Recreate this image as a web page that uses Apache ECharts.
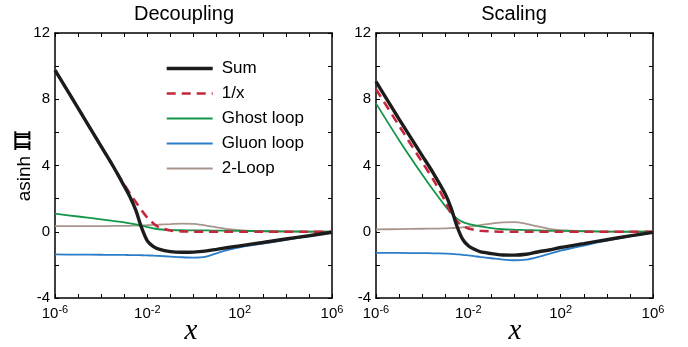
<!DOCTYPE html>
<html>
<head>
<meta charset="utf-8">
<style>
  html, body { margin: 0; padding: 0; background: #fff; }
  #chart { width: 688px; height: 347px; }
</style>
<script src="https://cdn.jsdelivr.net/npm/echarts@6/dist/echarts.min.js"></script>
</head>
<body>
<div id="chart"></div>
<script>
// x positions are log10(x)
const logX = [-6, -5, -4, -3.5, -3, -2.75, -2.5, -2.25, -2, -1.75, -1.5, -1, -0.5, 0, 0.5, 1, 1.5, 2, 3, 4, 5, 6];

// Decoupling panel
const decSum    = [9.76, 7.46, 5.15, 4.0, 2.75, 2.1, 1.3, 0.25, -0.55, -0.88, -1.05, -1.2, -1.24, -1.23, -1.17, -1.06, -0.95, -0.85, -0.65, -0.44, -0.24, -0.03];
const decInv    = [9.76, 7.46, 5.15, 4.0, 2.85, 2.3, 1.8, 1.3, 0.85, 0.52, 0.28, 0.07, 0.02, 0.01, 0, 0, 0, 0, 0, 0, 0, 0];
const decGhost  = [1.09, 0.92, 0.75, 0.66, 0.57, 0.51, 0.44, 0.36, 0.28, 0.21, 0.15, 0.1, 0.09, 0.08, 0.08, 0.07, 0.06, 0.05, 0.04, 0.02, 0.01, 0];
const decGluon  = [-1.37, -1.38, -1.39, -1.4, -1.4, -1.41, -1.41, -1.42, -1.43, -1.44, -1.46, -1.5, -1.54, -1.56, -1.52, -1.3, -1.1, -0.94, -0.72, -0.49, -0.26, -0.04];
const decTwo    = [0.34, 0.34, 0.34, 0.35, 0.35, 0.36, 0.37, 0.38, 0.4, 0.41, 0.43, 0.46, 0.49, 0.48, 0.38, 0.26, 0.16, 0.1, 0.03, 0.01, 0, 0];

// Scaling panel
const scaSum    = [9.06, 6.8, 4.6, 3.5, 2.28, 1.45, 0.36, -0.45, -0.85, -1.05, -1.2, -1.32, -1.4, -1.41, -1.36, -1.22, -1.1, -0.95, -0.72, -0.48, -0.25, -0.04];
const scaInv    = [8.6, 6.4, 4.2, 3.1, 1.85, 1.1, 0.65, 0.36, 0.2, 0.12, 0.06, 0.02, 0, 0, 0, 0, 0, 0, 0, 0, 0, 0];
const scaGhost  = [7.75, 5.53, 3.45, 2.47, 1.55, 1.15, 0.81, 0.6, 0.48, 0.4, 0.33, 0.22, 0.15, 0.12, 0.1, 0.08, 0.06, 0.05, 0.03, 0.01, 0, 0];
const scaGluon  = [-1.27, -1.28, -1.29, -1.3, -1.32, -1.33, -1.36, -1.39, -1.43, -1.47, -1.52, -1.6, -1.68, -1.72, -1.68, -1.53, -1.33, -1.14, -0.83, -0.54, -0.28, -0.04];
const scaTwo    = [0.14, 0.16, 0.18, 0.19, 0.2, 0.22, 0.24, 0.27, 0.31, 0.34, 0.4, 0.49, 0.57, 0.58, 0.48, 0.32, 0.18, 0.1, 0.04, 0.01, 0, 0];

const seriesNames = ['Sum', '1/x', 'Ghost loop', 'Gluon loop', '2-Loop'];
const panelTitles = ['Decoupling', 'Scaling'];

const FONT = '"Liberation Sans", Arial, sans-serif';
const SERIF = '"Liberation Serif", "DejaVu Serif", serif';
const styles = {
  'Sum':        { color: '#1c1c1c', width: 3.4, type: 'solid' },
  '1/x':        { color: '#c4263a', width: 2.6, type: [9, 6] },
  'Ghost loop': { color: '#14964a', width: 1.8, type: 'solid' },
  'Gluon loop': { color: '#2b7cc9', width: 1.8, type: 'solid' },
  '2-Loop':     { color: '#a8968d', width: 1.8, type: 'solid' }
};

const panels = [
  { 'Sum': decSum, '1/x': decInv, 'Ghost loop': decGhost, 'Gluon loop': decGluon, '2-Loop': decTwo },
  { 'Sum': scaSum, '1/x': scaInv, 'Ghost loop': scaGhost, 'Gluon loop': scaGluon, '2-Loop': scaTwo }
];

const grids = [
  { left: 55, right: 356, top: 33, bottom: 49, outerBoundsMode: 'none' },
  { left: 376, right: 35, top: 33, bottom: 49, outerBoundsMode: 'none' }
];

const tick = { show: true, inside: true, length: 4, lineStyle: { color: '#000', width: 1 } };
const line = { show: true, onZero: false, lineStyle: { color: '#000', width: 1.5 } };

function xAxes(g) {
  return [{
    type: 'value', gridIndex: g, position: 'bottom', min: -6, max: 6, interval: 1,
    axisLine: line, axisTick: tick, splitLine: { show: false },
    axisLabel: {
      margin: 6,
      formatter: v => ((v + 6) % 4 === 0 ? '{b|10}{s|' + v + '}' : ''),
      rich: {
        b: { fontFamily: FONT, fontSize: 15, color: '#000' },
        s: { fontFamily: FONT, fontSize: 11, color: '#000', padding: [0, 0, 8, 0] }
      }
    }
  }, {
    type: 'value', gridIndex: g, position: 'top', min: -6, max: 6, interval: 1,
    axisLine: line, axisTick: tick, axisLabel: { show: false }, splitLine: { show: false }
  }];
}

function yAxes(g) {
  return [{
    type: 'value', gridIndex: g, position: 'left', min: -4, max: 12, interval: 2,
    axisLine: line, axisTick: tick, splitLine: { show: false },
    axisLabel: {
      margin: 5, fontFamily: FONT, fontSize: 15, color: '#000',
      formatter: v => (v % 4 === 0 ? String(v) : '')
    }
  }, {
    type: 'value', gridIndex: g, position: 'right', min: -4, max: 12, interval: 2,
    axisLine: line, axisTick: tick, axisLabel: { show: false }, splitLine: { show: false }
  }];
}

// draw order: brown, blue, green, dashed, black on top
const drawOrder = ['2-Loop', 'Gluon loop', 'Ghost loop', '1/x', 'Sum'];
const series = [];
panels.forEach((p, g) => {
  drawOrder.forEach((name, k) => {
    const st = styles[name];
    series.push({
      name: name, type: 'line', xAxisIndex: g * 2, yAxisIndex: g * 2,
      data: logX.map((e, i) => [e, p[name][i]]),
      symbol: 'none', showSymbol: false, smooth: 0.3,
      z: 2 + k,
      lineStyle: { color: st.color, width: st.width, type: st.type },
      itemStyle: { color: st.color },
      emphasis: { disabled: true }
    });
  });
});

const legendData = seriesNames.map(n => ({
  name: n,
  lineStyle: { color: styles[n].color, width: styles[n].width, type: styles[n].type }
}));

// axis titles
const xTitle = (cx) => ({
  type: 'text', x: cx, y: 331,
  style: { text: 'x', font: 'italic 29px ' + SERIF, fill: '#000', align: 'center', verticalAlign: 'middle' }
});

const chart = echarts.init(document.getElementById('chart'), null, { renderer: 'canvas' });
chart.setOption({
  animation: false,
  backgroundColor: '#fff',
  title: [
    { text: panelTitles[0], left: 179, top: -1, textAlign: 'center', textStyle: { fontFamily: FONT, fontSize: 20, fontWeight: 'normal', color: '#000' } },
    { text: panelTitles[1], left: 509, top: -1, textAlign: 'center', textStyle: { fontFamily: FONT, fontSize: 20, fontWeight: 'normal', color: '#000' } }
  ],
  legend: {
    data: legendData, orient: 'vertical', left: 165, top: 60, padding: 0,
    itemWidth: 46, itemHeight: 14, itemGap: 8,
    itemStyle: { opacity: 0 },
    textStyle: { fontFamily: FONT, fontSize: 17, color: '#000', padding: [0, 0, 0, 4] },
    selectedMode: false
  },
  graphic: [
    xTitle(191),
    xTitle(515),
    {
      type: 'text', x: 25, y: 166, rotation: Math.PI / 2,
      style: {
        text: 'asinh {p|ℿ}', font: '19px ' + FONT, fill: '#000', align: 'center', verticalAlign: 'middle',
        rich: { p: { fontFamily: '"DejaVu Serif", serif', fontSize: 21, fontWeight: 'bold', fill: '#000' } }
      }
    }
  ],
  grid: grids,
  xAxis: [...xAxes(0), ...xAxes(1)],
  yAxis: [...yAxes(0), ...yAxes(1)],
  series: series
});
</script>
</body>
</html>
